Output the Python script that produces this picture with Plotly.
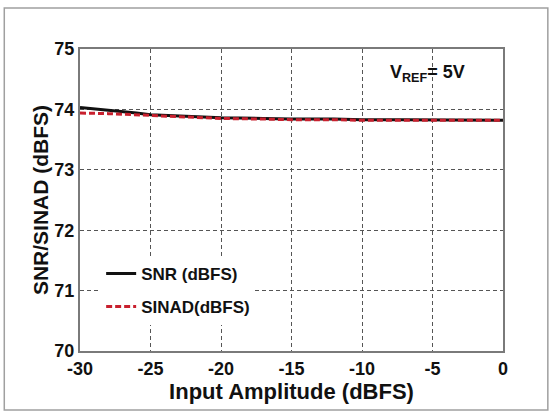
import plotly.graph_objects as go

x_amp = [-30, -29, -28, -27, -26, -25, -24, -22, -20, -17, -15, -12, -10, -7, -5, -2, 0]
snr = [74.03, 74.01, 73.99, 73.97, 73.94, 73.91, 73.90, 73.88, 73.86, 73.85, 73.84, 73.84, 73.83, 73.83, 73.83, 73.82, 73.82]
sinad = [73.94, 73.94, 73.93, 73.92, 73.91, 73.90, 73.89, 73.87, 73.85, 73.84, 73.83, 73.83, 73.82, 73.82, 73.82, 73.82, 73.82]

x_ticks = [-30, -25, -20, -15, -10, -5, 0]
y_ticks = [70, 71, 72, 73, 74, 75]

FONT = "Liberation Sans, Arial, sans-serif"

fig = go.Figure()
fig.add_trace(go.Scatter(
    x=x_amp, y=snr, mode="lines", name="<b>SNR (dBFS)</b>",
    line=dict(color="#111111", width=3), legendgroup="a"))
fig.add_trace(go.Scatter(
    x=x_amp, y=sinad, mode="lines", name="<b>SINAD(dBFS)</b>",
    line=dict(color="#c8202e", width=3, dash="6px,3px"), legendgroup="b"))

axis_common = dict(
    showgrid=True, gridcolor="#555555", griddash="4px,3px", gridwidth=1,
    showline=True, linecolor="#7a7a7a", linewidth=2, mirror=True,
    zeroline=False, ticks="", tickfont=dict(family=FONT, size=18, color="#111111"),
)

fig.update_xaxes(range=[-30, 0], tickvals=x_ticks,
                 ticktext=[f"<b>{v}</b>" for v in x_ticks],
                 title=dict(text="<b>Input Amplitude (dBFS)</b>",
                            font=dict(family=FONT, size=22, color="#111111"), standoff=2),
                 **axis_common)
fig.update_yaxes(range=[70, 75], tickvals=y_ticks,
                 ticktext=[f"<b>{v}</b>" for v in y_ticks],
                 title=dict(text="<b>SNR/SINAD (dBFS)</b>",
                            font=dict(family=FONT, size=21, color="#111111"), standoff=0),
                 **axis_common)

fig.add_annotation(
    x=0.915, y=0.92, xref="paper", yref="paper", xanchor="right", yanchor="middle",
    text="<b>V<sub>REF</sub>= 5V</b>", showarrow=False,
    font=dict(family=FONT, size=18, color="#111111"))

# outer frame
fig.add_shape(type="rect", xref="paper", yref="paper",
              x0=-0.179, x1=1.106, y0=-0.195, y1=1.136,
              line=dict(color="#a0a0a0", width=1.5), fillcolor="rgba(0,0,0,0)", layer="below")

fig.update_layout(
    width=551, height=415,
    margin=dict(l=80, r=48, t=49, b=64),
    paper_bgcolor="white", plot_bgcolor="white",
    font=dict(family=FONT, color="#111111"),
    legend=dict(x=0.05, y=0.315, xanchor="left", yanchor="top",
                bgcolor="white", borderwidth=0, itemwidth=30,
                font=dict(family=FONT, size=17, color="#111111"),
                traceorder="grouped", tracegroupgap=8),
    showlegend=True,
)

fig.write_html("out.html", config={"displayModeBar": False},
               post_script="document.body.style.margin='0px';")
